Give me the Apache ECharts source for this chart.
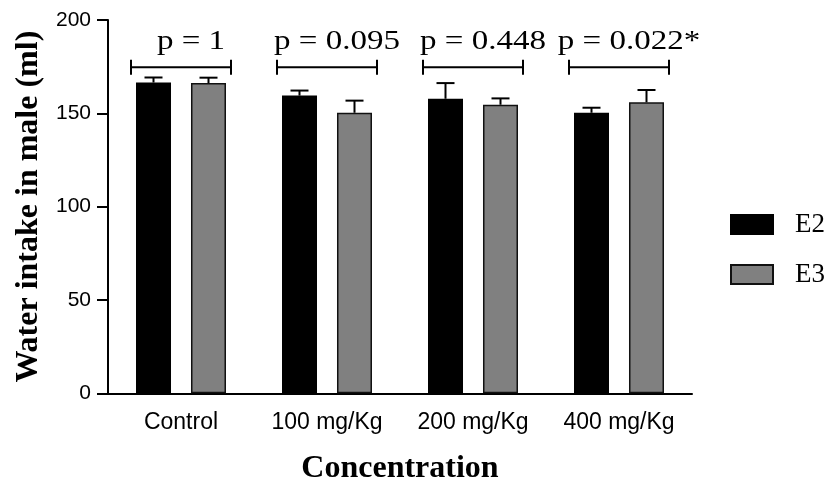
<!DOCTYPE html>
<html>
<head>
<meta charset="utf-8">
<script src="https://cdn.jsdelivr.net/npm/echarts@6/dist/echarts.min.js"></script>
<style>
  html, body { margin: 0; padding: 0; background: #fff; }
  #chart { width: 834px; height: 479px; }
</style>
</head>
<body>
<div id="chart"></div>
<script>
// Water intake (ml) of male animals by extract concentration, E2 vs E3
const categories = ['Control', '100 mg/Kg', '200 mg/Kg', '400 mg/Kg'];
const e2Mean = [166.5, 159.5, 157.8, 150.3];
const e2Err  = [2.7, 2.7, 8.4, 2.7];
const e3Mean = [166.2, 150.3, 154.6, 155.9];
const e3Err  = [2.9, 6.5, 3.4, 6.6];
const pLabels = ['p = 1', 'p = 0.095', 'p = 0.448', 'p = 0.022*'];
const yTicks = [0, 50, 100, 150, 200];

const BAR_W = 35;
const BAR_GAP = 20;
const HALF_STEP = (BAR_W + BAR_GAP) / 2;
const BRACKET_LEVEL = 174.7;

const chart = echarts.init(document.getElementById('chart'), null, { renderer: 'canvas' });

function errorRenderer(sign) {
  return function (params, api) {
    const i = api.value(0);
    const top = api.coord([i, api.value(2)]);
    const base = api.coord([i, api.value(1)]);
    const x = top[0] + sign * HALF_STEP;
    return {
      type: 'group',
      children: [
        { type: 'line', shape: { x1: x, y1: base[1], x2: x, y2: top[1] },
          style: { stroke: '#000', lineWidth: 2 } },
        { type: 'line', shape: { x1: x - 9, y1: top[1], x2: x + 9, y2: top[1] },
          style: { stroke: '#000', lineWidth: 2 } }
      ]
    };
  };
}

function bracketRenderer(params, api) {
  const i = api.value(0);
  const c = api.coord([i, api.value(1)]);
  const x0 = c[0] - 50, x1 = c[0] + 50, y = c[1];
  return {
    type: 'group',
    children: [
      { type: 'line', shape: { x1: x0, y1: y, x2: x1, y2: y }, style: { stroke: '#000', lineWidth: 2 } },
      { type: 'line', shape: { x1: x0, y1: y - 7.5, x2: x0, y2: y + 7.5 }, style: { stroke: '#000', lineWidth: 2 } },
      { type: 'line', shape: { x1: x1, y1: y - 7.5, x2: x1, y2: y + 7.5 }, style: { stroke: '#000', lineWidth: 2 } },
      { type: 'text', x: c[0] + 10, y: y - 26, scaleX: 1.18,
        style: { text: pLabels[params.dataIndex], x: 0, y: 0, align: 'center', verticalAlign: 'middle',
                 fill: '#000', font: '28px "Liberation Serif", "Times New Roman", serif' } }
    ]
  };
}

const option = {
  animation: false,
  backgroundColor: '#fff',
  grid: { left: 108, right: 142, top: 20, bottom: 85.7, containLabel: false, outerBoundsMode: 'none' },
  legend: {
    data: ['E2', 'E3'],
    orient: 'vertical',
    left: 730,
    top: 211,
    padding: 0,
    itemWidth: 42,
    itemHeight: 19,
    itemGap: 23,
    icon: 'rect',
    textStyle: {
      fontFamily: '"Liberation Serif", "Times New Roman", serif',
      fontSize: 27,
      color: '#000',
      lineHeight: 19,
      height: 19,
      padding: [0, 0, 0, 17]
    }
  },
  xAxis: {
    type: 'category',
    data: categories,
    name: 'Concentration',
    nameLocation: 'middle',
    nameGap: 59,
    nameTextStyle: {
      fontFamily: '"Liberation Serif", "Times New Roman", serif',
      fontWeight: 'bold', fontSize: 32, color: '#000'
    },
    axisLine: { lineStyle: { color: '#000', width: 2 } },
    axisTick: { alignWithLabel: true, length: 11, lineStyle: { color: '#000', width: 2 } },
    axisLabel: {
      fontFamily: '"Liberation Sans", Arial, sans-serif',
      fontSize: 23, color: '#000', margin: 18
    }
  },
  yAxis: {
    type: 'value',
    min: 0, max: 200, interval: 50,
    name: 'Water intake in male (ml)',
    nameLocation: 'middle',
    nameGap: 62,
    nameTextStyle: {
      fontFamily: '"Liberation Serif", "Times New Roman", serif',
      fontWeight: 'bold', fontSize: 32, color: '#000'
    },
    axisLine: { show: true, lineStyle: { color: '#000', width: 2 } },
    axisTick: { show: true, length: 11, lineStyle: { color: '#000', width: 2 } },
    axisLabel: {
      fontFamily: '"Liberation Sans", Arial, sans-serif',
      fontSize: 21, color: '#000', margin: 17,
      formatter: v => (yTicks.indexOf(v) >= 0 ? String(v) : '')
    },
    splitLine: { show: false }
  },
  series: [
    {
      name: 'E2', type: 'bar', data: e2Mean,
      barWidth: BAR_W, barGap: (BAR_GAP / BAR_W * 100).toFixed(1) + '%',
      itemStyle: { color: '#000', borderColor: '#000', borderWidth: 1.5 }
    },
    {
      name: 'E3', type: 'bar', data: e3Mean,
      barWidth: BAR_W,
      itemStyle: { color: '#808080', borderColor: '#111', borderWidth: 1.5 }
    },
    {
      type: 'custom', name: 'E2 error', z: 5,
      renderItem: errorRenderer(-1),
      dimensions: ['cat', 'mean', 'upper'],
      encode: { x: 0, y: [1, 2] },
      data: e2Mean.map((m, i) => [i, m, m + e2Err[i]])
    },
    {
      type: 'custom', name: 'E3 error', z: 5,
      renderItem: errorRenderer(1),
      dimensions: ['cat', 'mean', 'upper'],
      encode: { x: 0, y: [1, 2] },
      data: e3Mean.map((m, i) => [i, m, m + e3Err[i]])
    },
    {
      type: 'custom', name: 'p values', z: 6,
      renderItem: bracketRenderer,
      encode: { x: 0, y: 1 },
      data: pLabels.map((t, i) => [i, BRACKET_LEVEL])
    }
  ]
};

chart.setOption(option);
</script>
</body>
</html>
